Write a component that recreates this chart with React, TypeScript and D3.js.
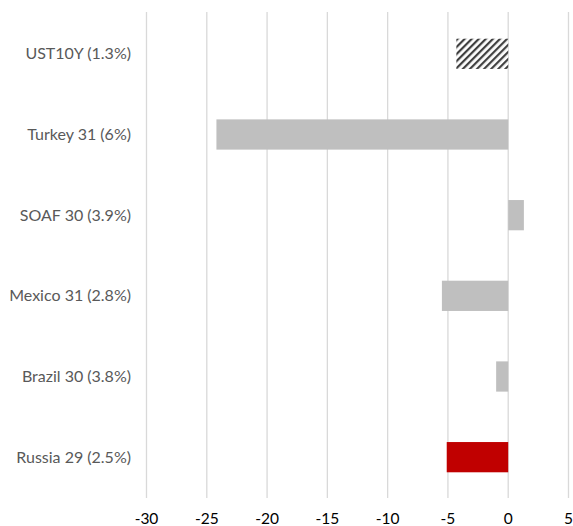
import React from "react";
import * as d3 from "d3";

const categories = ["UST10Y (1.3%)", "Turkey 31 (6%)", "SOAF 30 (3.9%)", "Mexico 31 (2.8%)", "Brazil 30 (3.8%)", "Russia 29 (2.5%)"];
const values = [-4.3, -24.2, 1.3, -5.5, -1.0, -5.1];
const fills = ["hatch", "#bfbfbf", "#bfbfbf", "#bfbfbf", "#bfbfbf", "#c00000"];
const ticks = [-30, -25, -20, -15, -10, -5, 0, 5];

const W = 573, H = 526;
const left = 146.5, right = 568.5, top = 13.5, bottom = 497.5;

export default function App() {
  const x = d3.scaleLinear().domain([-30, 5]).range([left, right]);
  const y = d3.scaleBand<string>().domain(categories).range([top, bottom]).paddingInner(0.625).paddingOuter(0.3125);
  const font = "Lato, 'Open Sans', 'Noto Sans', sans-serif";
  return (
    <svg width={W} height={H} style={{ position: "absolute", left: 0, top: 0, background: "#fff" }}>
      <defs>
        <pattern id="hatch" patternUnits="userSpaceOnUse" width="5" height="5" patternTransform="rotate(45)">
          <rect width="5" height="5" fill="#fff" />
          <rect width="2.2" height="5" fill="#404040" />
        </pattern>
      </defs>
      {ticks.map((t) => (
        <line key={t} x1={x(t)} x2={x(t)} y1={12} y2={498} stroke="#d9d9d9" strokeWidth={1.3} />
      ))}
      {categories.map((c, i) => {
        const v = values[i];
        const x0 = x(Math.min(0, v));
        const x1 = x(Math.max(0, v));
        return (
          <rect key={c} x={x0} y={y(c)} width={x1 - x0} height={y.bandwidth()}
            fill={fills[i] === "hatch" ? "url(#hatch)" : fills[i]} />
        );
      })}
      {categories.map((c) => (
        <text key={c} x={131} y={(y(c) as number) + y.bandwidth() / 2} dy="0.35em" textAnchor="end"
          fontFamily={font} fontSize={16} fill="#595959">{c}</text>
      ))}
      {ticks.map((t) => (
        <text key={t} x={x(t)} y={519} dy="0.35em" textAnchor="middle" fontFamily={font} fontSize={15.5} fill="#000">{t}</text>
      ))}
    </svg>
  );
}
